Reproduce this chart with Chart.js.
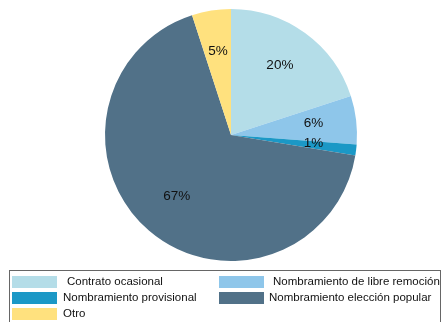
<!DOCTYPE html>
<html>
<head>
<meta charset="utf-8">
<script src="https://cdn.jsdelivr.net/npm/chart.js@4/dist/chart.umd.min.js"></script>
<style>
	html, body { margin: 0; padding: 0; background: #fff; }
	#wrap { position: relative; width: 444px; height: 322px; }
</style>
</head>
<body>
<div id="wrap"><canvas id="pie"></canvas></div>
<script>
// slice categories, clockwise from 12 o'clock
const categories = [
	'Contrato ocasional',
	'Nombramiento de libre remoción',
	'Nombramiento provisional',
	'Nombramiento elección popular',
	'Otro',
];
// share of each category, percent
const shares = [20.0, 6.2, 1.4, 67.4, 5.0];
const sliceColors = ['#B4DDE8', '#8EC6EA', '#1B98C6', '#517188', '#FFE17E'];

const FONT = '"Liberation Sans", Arial, sans-serif';

// percent labels inside each slice
let sliceLabels = {
	id: 'sliceLabels',
	afterDatasetsDraw (chart) {
		let { ctx } = chart;
		let meta = chart.getDatasetMeta(0);
		let total = shares.reduce((a, b) => a + b, 0);
		ctx.save();
		ctx.font = '13.5px ' + FONT;
		ctx.fillStyle = '#111';
		ctx.textAlign = 'center';
		ctx.textBaseline = 'middle';
		meta.data.forEach((arc, i) => {
			let { x, y, startAngle, endAngle, outerRadius } = arc.getProps(['x', 'y', 'startAngle', 'endAngle', 'outerRadius'], true);
			let mid = (startAngle + endAngle) / 2;
			let r = outerRadius * 0.66;
			let pct = Math.round(shares[i] / total * 100);
			ctx.fillText(pct + '%', x + Math.cos(mid) * r, y + Math.sin(mid) * r - 2);
		});
		ctx.restore();
	},
};

// boxed two-column legend below the pie
let boxLegend = {
	id: 'boxLegend',
	afterDraw (chart) {
		let { ctx } = chart;
		ctx.save();
		ctx.strokeStyle = '#666';
		ctx.lineWidth = 1;
		ctx.strokeRect(9.5, 270.5, 431, 60);

		let cols = [
			{ box: 12, text: 63 },
			{ box: 219, text: 269 },
		];
		ctx.font = '11.5px ' + FONT;
		ctx.textBaseline = 'middle';
		categories.forEach((name, i) => {
			let col = cols[i % 2];
			let cy = 282 + Math.floor(i / 2) * 16;
			ctx.fillStyle = sliceColors[i];
			ctx.fillRect(col.box, cy - 6, 45, 12);
			ctx.fillStyle = '#111';
			let tx = col.text + (i < 2 ? 4 : 0);
			ctx.fillText(name, tx, cy);
		});
		ctx.restore();
	},
};

new Chart(document.getElementById('pie'), {
	type: 'pie',
	data: {
		labels: categories,
		datasets: [{
			data: shares,
			backgroundColor: sliceColors,
			borderColor: sliceColors,
			borderWidth: 0,
		}],
	},
	options: {
		responsive: true,
		maintainAspectRatio: false,
		animation: false,
		layout: {
			padding: { left: 105, right: 87, top: 9, bottom: 61 },
		},
		plugins: {
			legend: { display: false },
			tooltip: { enabled: false },
		},
	},
	plugins: [sliceLabels, boxLegend],
});
</script>
</body>
</html>
